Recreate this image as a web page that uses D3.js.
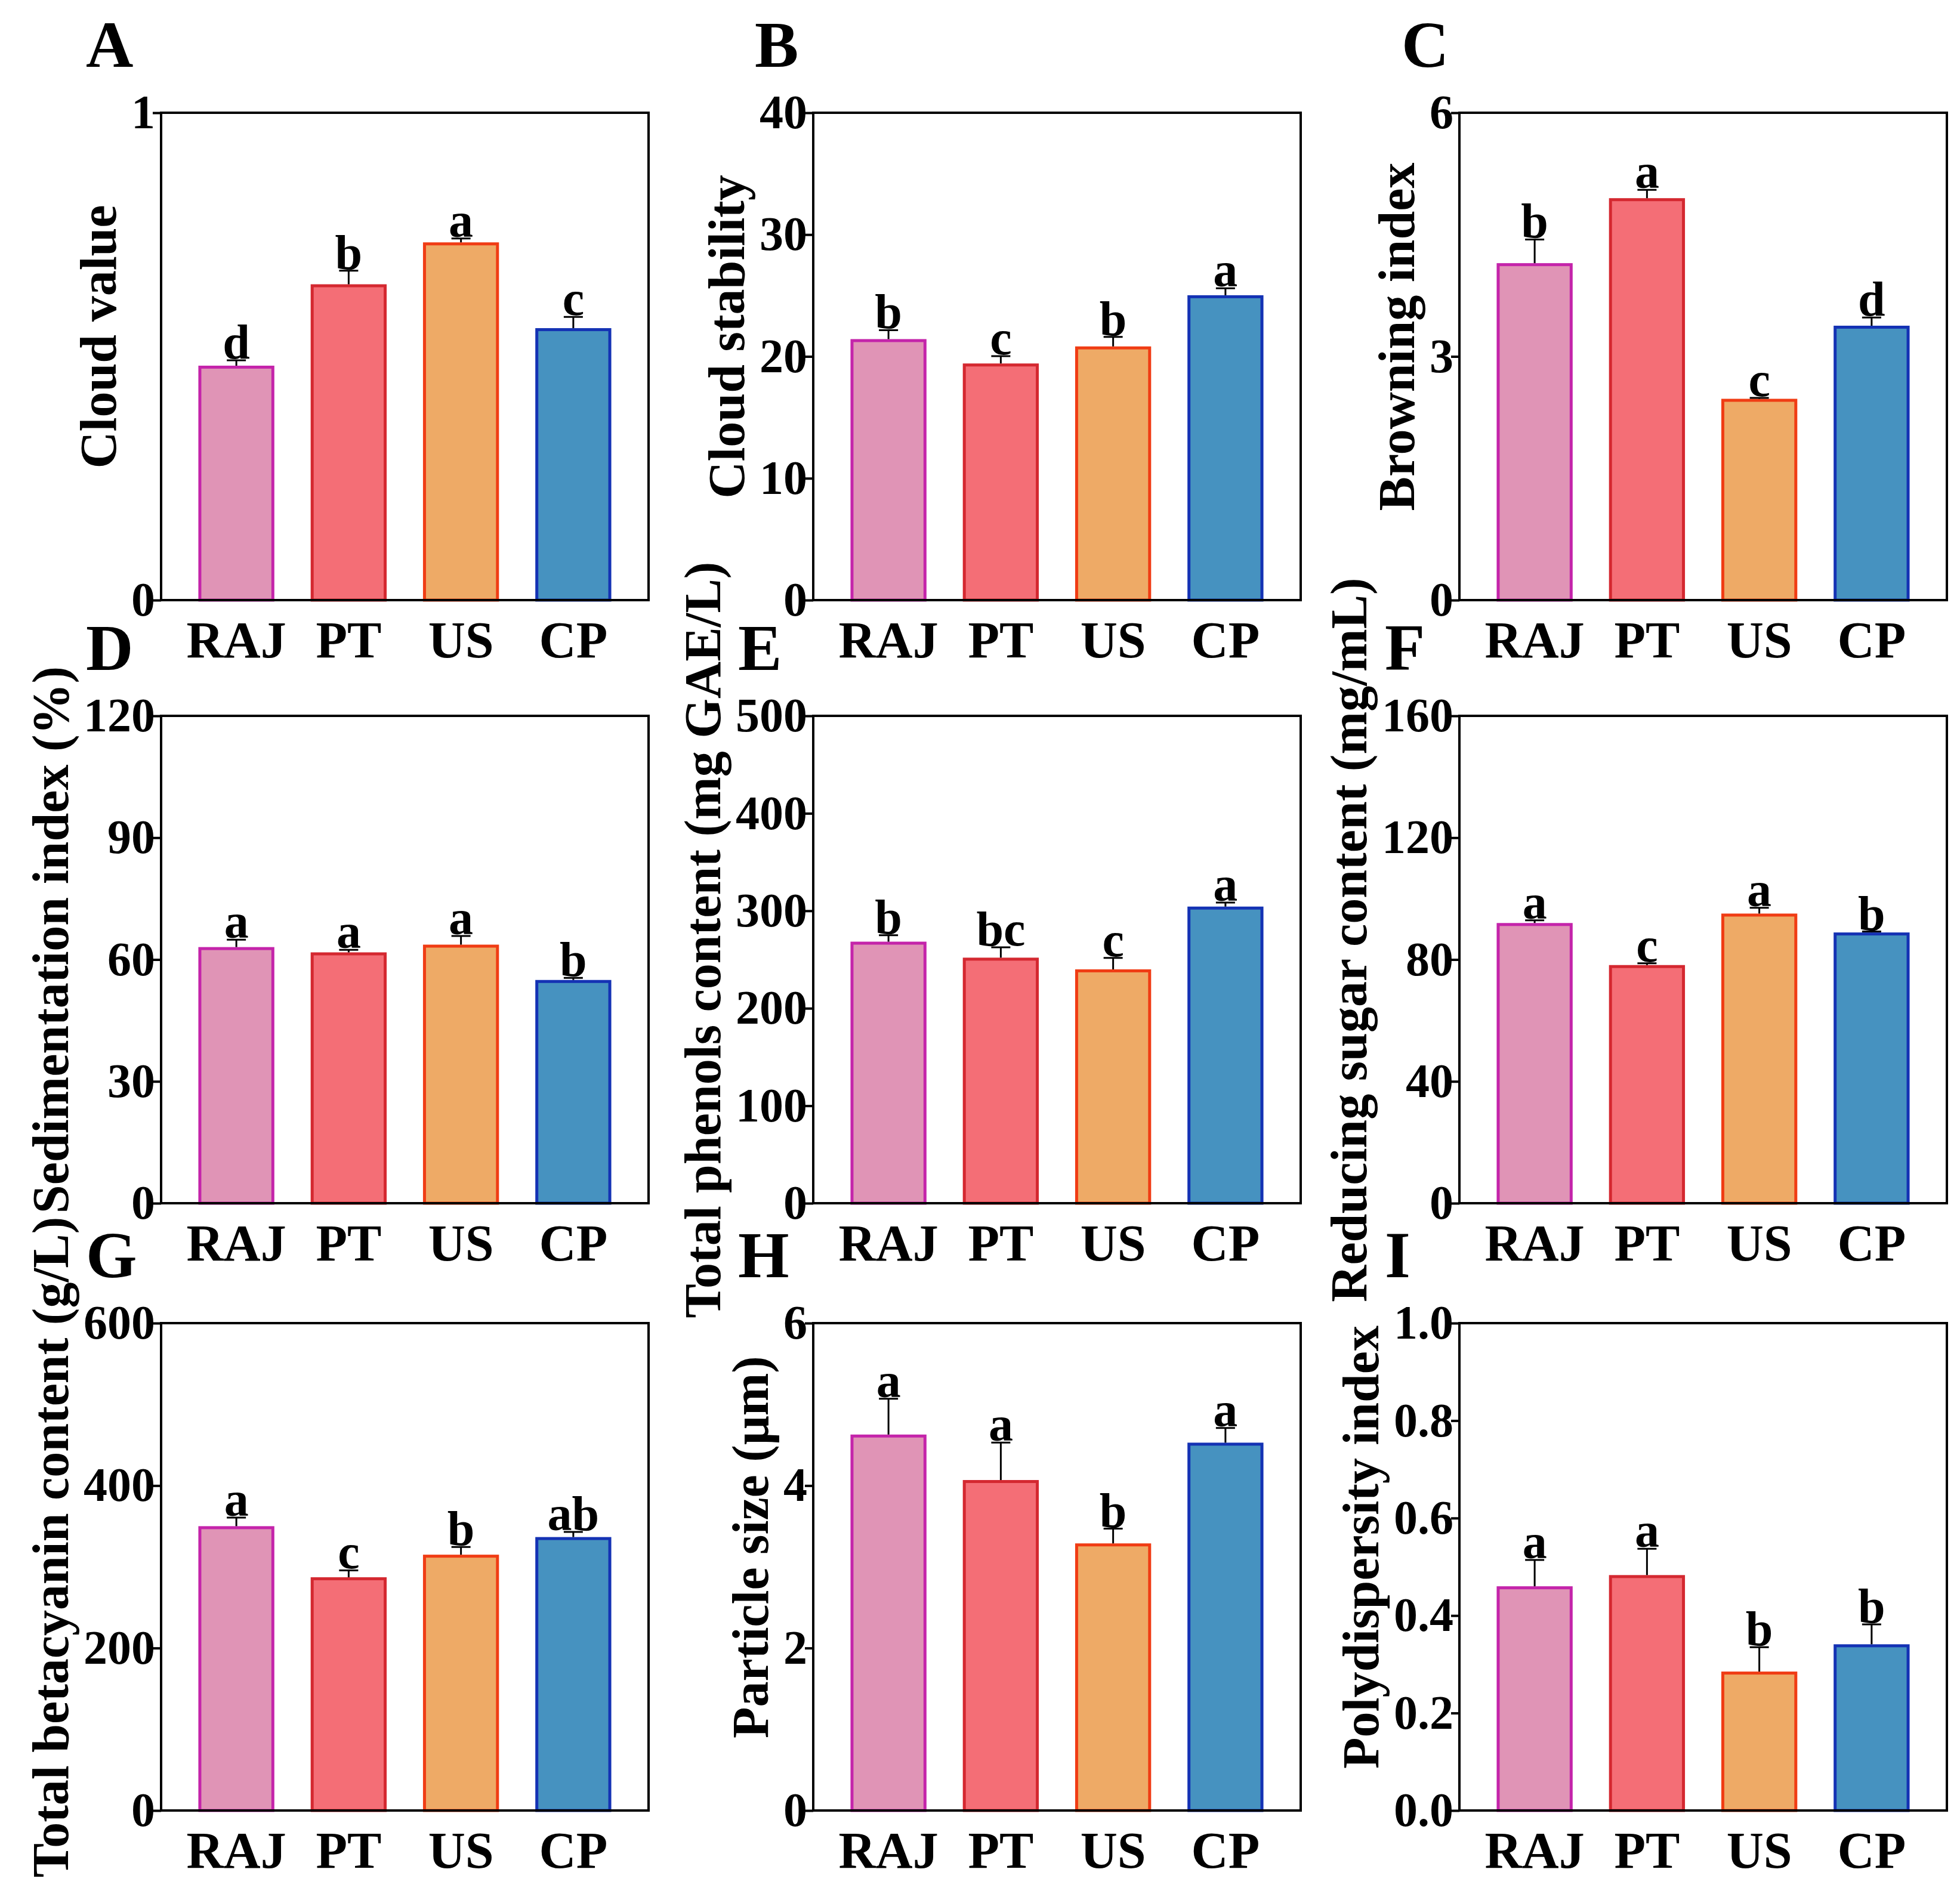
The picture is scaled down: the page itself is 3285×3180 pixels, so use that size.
<!DOCTYPE html>
<html>
<head>
<meta charset="utf-8">
<script src="https://cdn.jsdelivr.net/npm/d3@7"></script>
<style>
  body { margin: 0; background: #fff; }
  text { font-family: "Liberation Serif", "Times New Roman", serif; font-weight: bold; fill: #000; }
</style>
</head>
<body>
<div id="chart"></div>
<script>
// groups and colours
var groups = ["RAJ", "PT", "US", "CP"];
var fills = ["#E094B6", "#F46E76", "#EEAA66", "#4692C0"];
var strokes = ["#C424AA", "#D42830", "#F03C14", "#1432B4"];

// values (mean, sd, letters)
var cloudValue = [0.478, 0.645, 0.731, 0.555];
var cloudValueSd = [0.014, 0.031, 0.011, 0.026];
var cloudValueSig = ["d", "b", "a", "c"];

var cloudStability = [21.3, 19.3, 20.7, 24.9];
var cloudStabilitySd = [0.86, 0.72, 0.90, 0.69];
var cloudStabilitySig = ["b", "c", "b", "a"];

var browning = [4.13, 4.93, 2.46, 3.36];
var browningSd = [0.31, 0.12, 0.03, 0.12];
var browningSig = ["b", "a", "c", "d"];

var sedimentation = [62.7, 61.4, 63.3, 54.6];
var sedimentationSd = [2.2, 1.0, 2.5, 0.9];
var sedimentationSig = ["a", "a", "a", "b"];

var phenols = [266.8, 250.4, 238.4, 302.8];
var phenolsSd = [8.1, 12.1, 13.3, 5.6];
var phenolsSig = ["b", "bc", "c", "a"];

var sugar = [91.5, 77.7, 94.6, 88.4];
var sugarSd = [1.4, 1.1, 2.4, 0.8];
var sugarSig = ["a", "c", "a", "b"];

var betacyanin = [348.2, 285.3, 313.1, 334.8];
var betacyaninSd = [12.3, 10.3, 11.4, 8.2];
var betacyaninSig = ["a", "c", "b", "ab"];

var particle = [4.61, 4.05, 3.27, 4.51];
var particleSd = [0.46, 0.48, 0.20, 0.20];
var particleSig = ["a", "a", "b", "a"];

var pdi = [0.457, 0.480, 0.282, 0.338];
var pdiSd = [0.057, 0.057, 0.053, 0.044];
var pdiSig = ["a", "a", "b", "b"];

// axis tick labels
var ticksA = [0, 1];
var ticksB = [0, 10, 20, 30, 40];
var ticksC = [0, 3, 6];
var ticksD = [0, 30, 60, 90, 120];
var ticksE = [0, 100, 200, 300, 400, 500];
var ticksF = [0, 40, 80, 120, 160];
var ticksG = [0, 200, 400, 600];
var ticksH = [0, 2, 4, 6];
var ticksI = [0, 0.2, 0.4, 0.6, 0.8, 1.0];

var panels = [
    { tag: "A", title: "Cloud value", v: cloudValue, sd: cloudValueSd, sig: cloudValueSig, ticks: ticksA, fmt: "d" },
    { tag: "B", title: "Cloud stability", v: cloudStability, sd: cloudStabilitySd, sig: cloudStabilitySig, ticks: ticksB, fmt: "d" },
    { tag: "C", title: "Browning index", v: browning, sd: browningSd, sig: browningSig, ticks: ticksC, fmt: "d" },
    { tag: "D", title: "Sedimentation index (%)", v: sedimentation, sd: sedimentationSd, sig: sedimentationSig, ticks: ticksD, fmt: "d" },
    { tag: "E", title: "Total phenols content (mg GAE/L)", v: phenols, sd: phenolsSd, sig: phenolsSig, ticks: ticksE, fmt: "d" },
    { tag: "F", title: "Reducing sugar content (mg/mL)", v: sugar, sd: sugarSd, sig: sugarSig, ticks: ticksF, fmt: "d" },
    { tag: "G", title: "Total betacyanin content (g/L)", v: betacyanin, sd: betacyaninSd, sig: betacyaninSig, ticks: ticksG, fmt: "d" },
    { tag: "H", title: "Particle size (\u03bcm)", v: particle, sd: particleSd, sig: particleSig, ticks: ticksH, fmt: "d" },
    { tag: "I", title: "Polydispersity index", v: pdi, sd: pdiSd, sig: pdiSig, ticks: ticksI, fmt: ".1f" }
];

// layout
var W = 3285, H = 3180, size = 817;
var colLeft = [270, 1363, 2446];
var rowTop = [189, 1200, 2218];
var tagDx = [-126, -98, -97, -126, -126, -125, -126, -126, -125];

var svg = d3.select("#chart")
    .append("svg")
    .attr("width", W)
    .attr("height", H);

svg.append("rect").attr("width", W).attr("height", H).attr("fill", "#fff");

panels.forEach(function (p, i) {
    var left = colLeft[i % 3], top = rowTop[Math.floor(i / 3)];
    var g = svg.append("g").attr("transform", "translate(" + left + "," + top + ")");

    var x = d3.scaleBand()
        .domain(groups)
        .range([0, size])
        .paddingInner(0.35)
        .paddingOuter(0.345);

    var y = d3.scaleLinear()
        .domain([0, p.ticks[p.ticks.length - 1]])
        .range([size, 0]);

    var rows = groups.map(function (k, j) {
        return { k: k, v: p.v[j], sd: p.sd[j], sig: p.sig[j], j: j };
    });

    // bars
    g.selectAll(".bar")
        .data(rows)
        .enter()
        .append("rect")
        .attr("x", function (d) { return x(d.k); })
        .attr("y", function (d) { return y(d.v); })
        .attr("width", x.bandwidth())
        .attr("height", function (d) { return y(0) - y(d.v); })
        .attr("fill", function (d) { return fills[d.j]; })
        .attr("stroke", function (d) { return strokes[d.j]; })
        .attr("stroke-width", 5);

    // error bars (upper only)
    var cx = function (d) { return x(d.k) + x.bandwidth() / 2; };
    g.selectAll(".err")
        .data(rows)
        .enter()
        .append("line")
        .attr("x1", cx).attr("x2", cx)
        .attr("y1", function (d) { return y(d.v) - 2.5; })
        .attr("y2", function (d) { return y(d.v + d.sd); })
        .attr("stroke", "#000")
        .attr("stroke-width", 3);
    g.selectAll(".cap")
        .data(rows)
        .enter()
        .append("line")
        .attr("x1", function (d) { return cx(d) - 16; })
        .attr("x2", function (d) { return cx(d) + 16; })
        .attr("y1", function (d) { return y(d.v + d.sd); })
        .attr("y2", function (d) { return y(d.v + d.sd); })
        .attr("stroke", "#000")
        .attr("stroke-width", 3);

    // significance letters
    g.selectAll(".sig")
        .data(rows)
        .enter()
        .append("text")
        .attr("x", cx)
        .attr("y", function (d) { return y(d.v + d.sd) - 3; })
        .attr("text-anchor", "middle")
        .attr("font-size", 82)
        .text(function (d) { return d.sig; });

    // frame
    g.append("rect")
        .attr("width", size)
        .attr("height", size)
        .attr("fill", "none")
        .attr("stroke", "#000")
        .attr("stroke-width", 4);

    // y axis
    var yAxis = g.append("g")
        .call(d3.axisLeft(y)
            .tickValues(p.ticks)
            .tickFormat(d3.format(p.fmt))
            .tickSize(14)
            .tickPadding(-4));
    yAxis.select(".domain").remove();
    yAxis.selectAll("line").attr("stroke", "#000").attr("stroke-width", 4);
    yAxis.selectAll("text")
        .attr("font-size", 80)
        .attr("font-family", null)
        .attr("fill", "#000");
    yAxis.attr("font-family", null);

    // x labels
    g.selectAll(".xl")
        .data(rows)
        .enter()
        .append("text")
        .attr("x", cx)
        .attr("y", size + 96)
        .attr("text-anchor", "middle")
        .attr("font-size", 86)
        .text(function (d) { return d.k; });

    // y title, placed from the widest tick label
    var tw = d3.max(yAxis.selectAll("text").nodes(), function (n) { return n.getBBox().width; });
    g.append("text")
        .attr("transform", "translate(" + (-(tw + 65)) + "," + (size / 2 - 33) + ") rotate(-90)")
        .attr("text-anchor", "middle")
        .attr("dominant-baseline", "central")
        .attr("font-size", 86)
        .text(p.title);

    // panel tag
    g.append("text")
        .attr("x", tagDx[i])
        .attr("y", -77)
        .attr("font-size", 110)
        .text(p.tag);
});
</script>
</body>
</html>
